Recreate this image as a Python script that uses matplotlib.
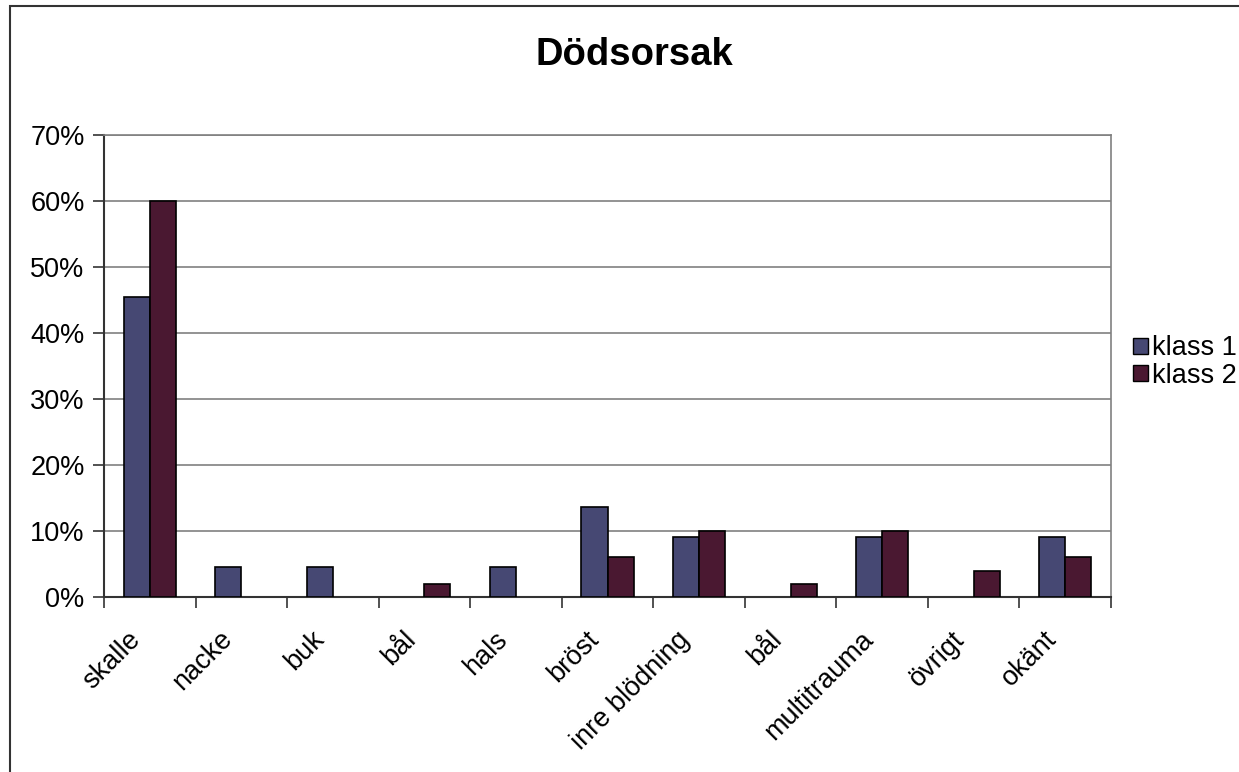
import numpy as np
import matplotlib
matplotlib.use("Agg")
import matplotlib.pyplot as plt
import matplotlib.transforms as mtrans
from matplotlib.patches import Rectangle, Patch
from matplotlib.ticker import PercentFormatter

plt.rcParams["font.family"] = ["Liberation Sans", "DejaVu Sans"]

categories = ["skalle", "nacke", "buk", "bål", "hals", "bröst",
              "inre blödning", "bål", "multitrauma", "övrigt", "okänt"]
klass1 = [45.5, 4.5, 4.5, 0, 4.5, 13.6, 9.1, 0, 9.1, 0, 9.1]
klass2 = [60, 0, 0, 2, 0, 6, 10, 2, 10, 4, 6]

c1 = "#464873"
c2 = "#4a1831"

fig = plt.figure(figsize=(12.39, 7.72), dpi=100)
W, H = 1239, 772

# outer chart frame (right and bottom edges are cut off in the original)
fig.patches.append(Rectangle((10 / W, -0.05), 1.2, 1 - 6 / H + 0.05,
                             transform=fig.transFigure, fill=False,
                             edgecolor="#333333", linewidth=1.5))

ax = fig.add_axes([104 / W, 1 - 597 / H, (1111 - 104) / W, (597 - 135) / H])

x = np.arange(len(categories))
bw = 0.285
for vals, col, off in [(klass1, c1, -bw / 2), (klass2, c2, bw / 2)]:
    ec = ["black" if v > 0 else "none" for v in vals]
    ax.bar(x + off, vals, bw, color=col, edgecolor=ec, linewidth=1.2, zorder=3)

ax.set_xlim(-0.5, len(categories) - 0.5)
ax.set_ylim(0, 70)
ax.set_yticks(np.arange(0, 71, 10))
ax.yaxis.set_major_formatter(PercentFormatter(decimals=0))
ax.grid(axis="y", color="#808080", linewidth=1.2, zorder=0)

ax.set_xticks(x)
ax.set_xticklabels(categories, rotation=45, ha="right", va="top",
                   rotation_mode="anchor")
ax.set_xticks(np.arange(-0.5, len(categories), 1), minor=True)
ax.tick_params(axis="x", which="major", length=0, pad=21, labelsize=19.5)
ax.tick_params(axis="x", which="minor", length=8, width=1.2, color="#333333")
ax.tick_params(axis="y", length=8, width=1.2, color="#333333", labelsize=19.5, pad=6)

shift = mtrans.ScaledTranslation(-22 / 100, 0, fig.dpi_scale_trans)
for lab in ax.get_xticklabels():
    lab.set_transform(lab.get_transform() + shift)

for s in ["left", "bottom"]:
    ax.spines[s].set_color("#333333")
    ax.spines[s].set_linewidth(1.5)
for s in ["top", "right"]:
    ax.spines[s].set_color("#808080")
    ax.spines[s].set_linewidth(1.2)

fig.text(634 / W, 1 - 55 / H, "Dödsorsak", ha="center", va="center",
         fontsize=27.5, fontweight="bold")

handles = [Patch(facecolor=c1, edgecolor="black", label="klass 1"),
           Patch(facecolor=c2, edgecolor="black", label="klass 2")]
fig.legend(handles=handles, loc="center left",
           bbox_to_anchor=(1133 / W, 1 - 362 / H), frameon=False,
           fontsize=19.5, handlelength=0.55, handleheight=0.55,
           handletextpad=0.15, labelspacing=0.05, borderaxespad=0,
           borderpad=0)

fig.savefig("out.png", dpi=100)
